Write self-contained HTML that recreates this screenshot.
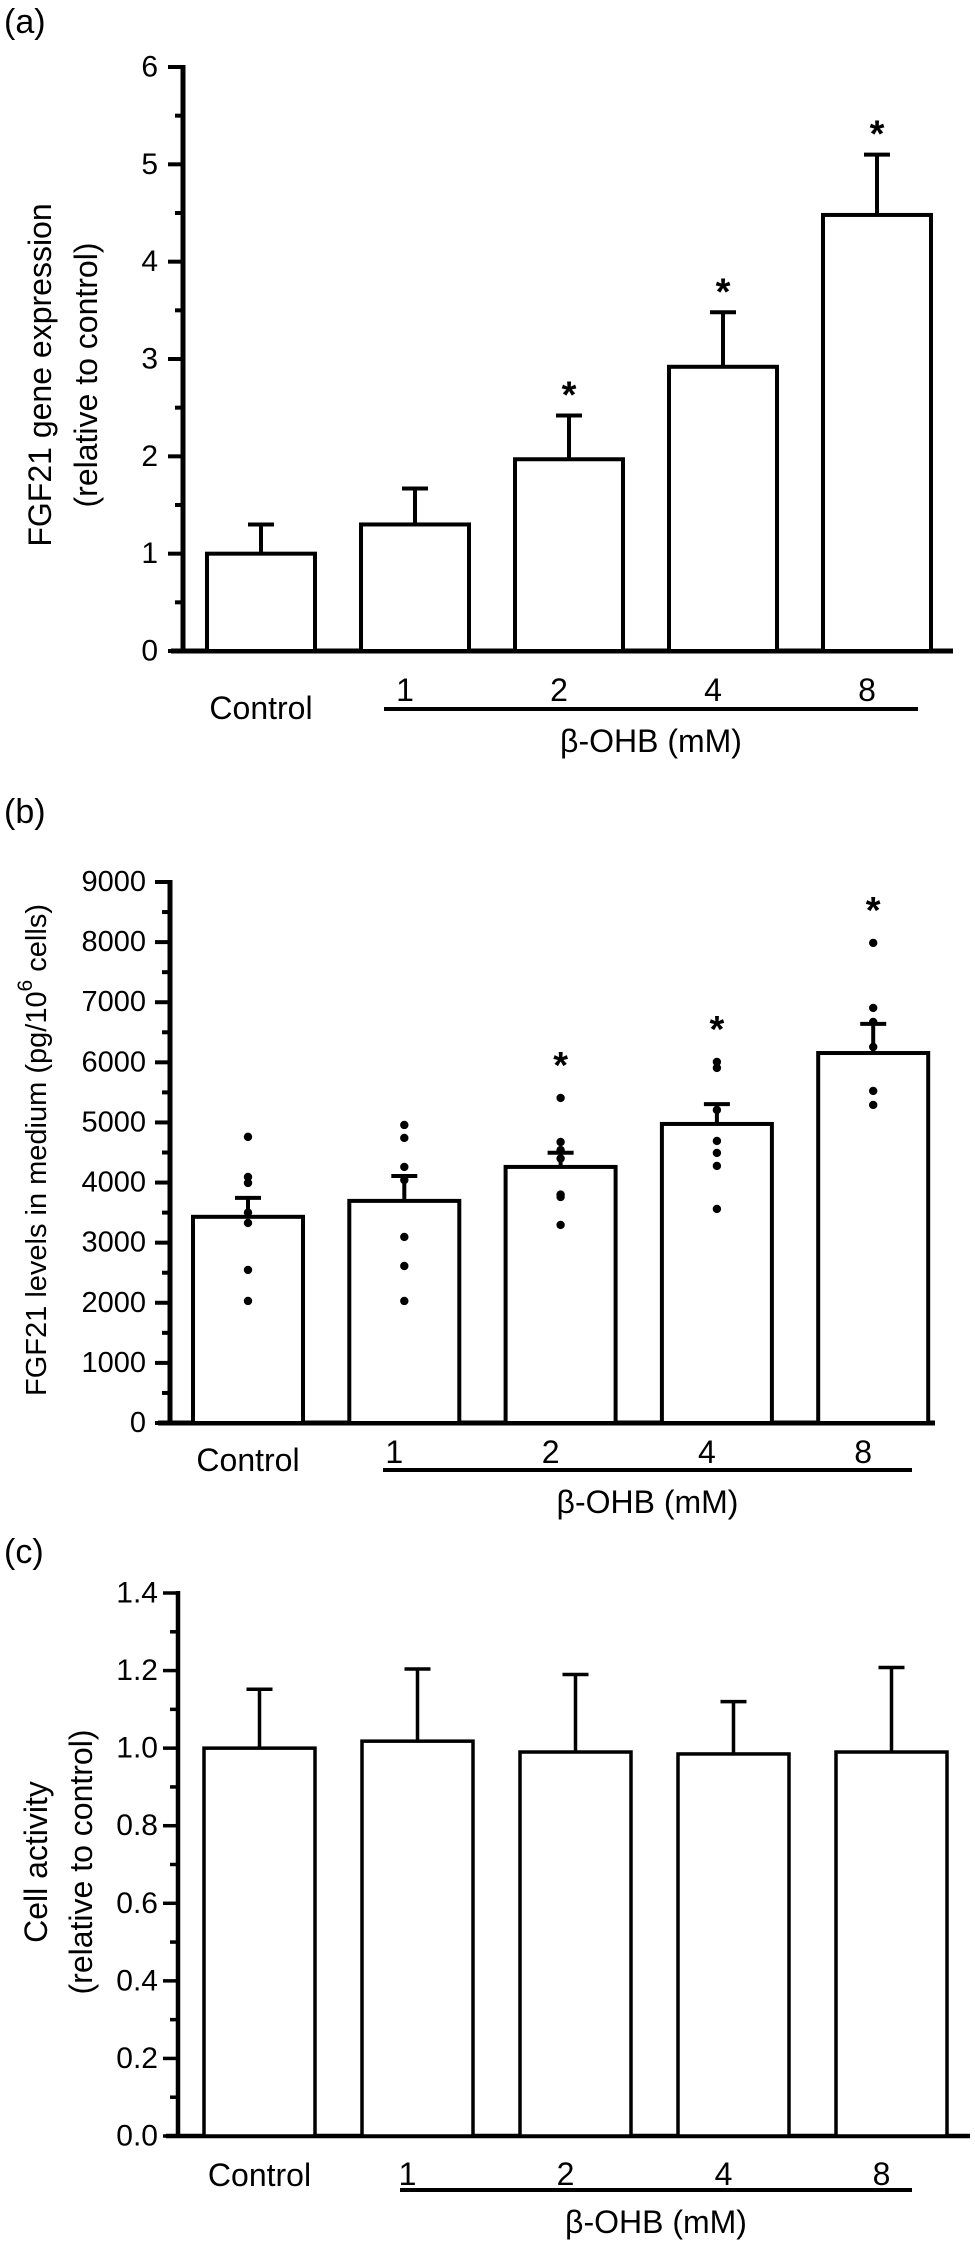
<!DOCTYPE html>
<html><head><meta charset="utf-8"><style>
body{margin:0;background:#fff}
svg{display:block}
text{font-family:"Liberation Sans",Arial,sans-serif;fill:#000}
</style></head><body>
<svg id="fig" width="975" height="2247" viewBox="0 0 975 2247" xmlns="http://www.w3.org/2000/svg"></svg>
<script>
const categories = ["Control","1","2","4","8"];
// Panel (a)
const aMeans = [1.0, 1.30, 1.97, 2.92, 4.48];
const aErrs  = [0.30, 0.37, 0.45, 0.56, 0.62];
const aStars = [false, false, true, true, true];
const aTicks = ["0","1","2","3","4","5","6"];
// Panel (b)
const bMeans = [3430, 3695, 4260, 4975, 6155];
const bErrs  = [315, 415, 235, 330, 485];
const bDots0 = [4760, 4093, 3993, 3500, 3328, 2546, 2030];
const bDots1 = [4958, 4742, 4260, 4043, 3095, 2612, 2030];
const bDots2 = [5408, 4675, 4540, 4400, 3800, 3760, 3295];
const bDots3 = [6007, 5907, 5208, 4692, 4493, 4276, 3561];
const bDots4 = [7987, 6905, 6672, 6256, 5524, 5291];
const bStars = [false, false, true, true, true];
const bTicks = ["0","1000","2000","3000","4000","5000","6000","7000","8000","9000"];
// Panel (c)
const cMeans = [1.0, 1.018, 0.990, 0.985, 0.990];
const cErrs  = [0.152, 0.186, 0.200, 0.135, 0.218];
const cTicks = ["0.0","0.2","0.4","0.6","0.8","1.0","1.2","1.4"];

const NS = "http://www.w3.org/2000/svg";
const svg = document.getElementById("fig");
function mk(tag, attrs, parent){
  const e = document.createElementNS(NS, tag);
  for (const k in attrs) e.setAttribute(k, attrs[k]);
  (parent||svg).appendChild(e);
  return e;
}
function line(x1,y1,x2,y2,w,p){return mk("line",{x1:x1,y1:y1,x2:x2,y2:y2,stroke:"#000","stroke-width":w},p);}
function txt(s,x,y,size,anchor,p){const t=mk("text",{x:x,y:y,"font-size":size,"text-anchor":anchor||"middle","dominant-baseline":"central"},p);t.textContent=s;return t;}

function panel(cfg){
  const g = mk("g",{});
  
  
  const yS = v => cfg.y0 - (v - 0) / cfg.max * (cfg.y0 - cfg.yTop);
  const barX = i => cfg.x0 + i * cfg.step;
  const pl = txt(cfg.letter, 4, cfg.letterY, 34, "start", g);
  
  
  const ya = line(cfg.ax, cfg.yTop-2, cfg.ax, cfg.y0, cfg.sw+1, g);
  
  
  const xa = line(cfg.ax-12, cfg.y0, cfg.xEnd, cfg.y0, cfg.sw+1, g);
  
  
  const n = cfg.ticks.length;
  for (let i=0;i<n;i++){
    const v = cfg.max * i/(n-1);
    const y = yS(v);
    line(cfg.ax-15, y, cfg.ax, y, cfg.sw, g);
    const tl = txt(cfg.ticks[i], cfg.labelR, y, cfg.tickSize, "end", g);
    
    
    if (i<n-1){ const ym = yS(v + cfg.max/(n-1)/2); line(cfg.ax-8, ym, cfg.ax, ym, cfg.sw, g); }
  }
  for (let i=0;i<cfg.means.length;i++){
    const x = barX(i), yt = yS(cfg.means[i]), ye = yS(cfg.means[i]+cfg.errs[i]);
    const cx = x + cfg.bw/2;
    const eb = line(cx, yt, cx, ye, cfg.sw, g);
    
    
    line(cx-13, ye, cx+13, ye, cfg.sw, g);
    const r = mk("rect",{x:x, y:yt, width:cfg.bw, height:cfg.y0-yt, fill:"#fff", stroke:"#000", "stroke-width":cfg.sw}, g);
    
    
    let topY = ye;
    if (cfg.dots){
      const d = cfg.dots[i];
      for (let j=0;j<d.length;j++){
        const c = mk("circle",{cx:cx, cy:yS(d[j]), r:4.2, fill:"#000"}, g);
        
        
        topY = Math.min(topY, yS(d[j]));
      }
    }
    if (cfg.stars && cfg.stars[i]){
      const s = txt("*", cx, topY - cfg.starGap + 6, 38, "middle", g);
      s.setAttribute('font-weight', 'bold');
      
      
    }
    const lx = i===0 ? cx : cx - 10;
    const cl = txt(categories[i], lx, i===0 ? cfg.ctrlY : cfg.numY, 32, "middle", g);
    
    
  }
  const ul = line(cfg.ulX1, cfg.ulY, cfg.ulX2, cfg.ulY, 4, g);
  
  
  const xt = txt("β-OHB (mM)", (cfg.ulX1+cfg.ulX2)/2, cfg.ulY+32, 32, "middle", g);
  
  
  cfg.title.forEach((s,k)=>{
    const t = txt(s, 0, 0, cfg.titleSize, "middle", g);
    t.setAttribute("transform", `translate(${cfg.titleX[k]},${cfg.titleY}) rotate(-90)`);
    
    
    if (cfg.sup && k===0){ t.textContent=""; 
      const a=mk("tspan",{},t); a.textContent="FGF21 levels in medium (pg/10";
      const b=mk("tspan",{dy:-12,"font-size":21},t); b.textContent="6";
      const c=mk("tspan",{dy:12},t); c.textContent=" cells)"; }
  });
}

panel({name:"panel-a-fgf21-expression", letter:"(a)", letterY:22, ax:183, y0:651, yTop:67, max:6, xEnd:953,
  x0:207, step:154, bw:108, sw:4, ticks:aTicks, labelR:158, tickSize:30,
  means:aMeans, errs:aErrs, stars:aStars, starGap:26,
  ctrlY:708, numY:690, ulX1:384, ulX2:918, ulY:709,
  title:["FGF21 gene expression","(relative to control)"], titleX:[40,86], titleY:375, titleSize:32});

panel({name:"panel-b-fgf21-medium", letter:"(b)", letterY:812, ax:170, y0:1423, yTop:882, max:9000, xEnd:935,
  x0:193, step:156.3, bw:110, sw:4, ticks:bTicks, labelR:146, tickSize:29,
  means:bMeans, errs:bErrs, dots:[bDots0,bDots1,bDots2,bDots3,bDots4], stars:bStars, starGap:38,
  ctrlY:1460, numY:1452, ulX1:383, ulX2:912, ulY:1470,
  title:["FGF21 levels in medium (pg/106 cells)"], titleX:[37], titleY:1150, titleSize:29, sup:true});

panel({name:"panel-c-cell-activity", letter:"(c)", letterY:1552, ax:178, y0:2136, yTop:1593, max:1.4, xEnd:970,
  x0:204, step:158, bw:111, sw:3.5, ticks:cTicks, labelR:158, tickSize:30,
  means:cMeans, errs:cErrs, stars:null, starGap:0,
  ctrlY:2175, numY:2174, ulX1:400, ulX2:912, ulY:2190,
  title:["Cell activity","(relative to control)"], titleX:[36,81], titleY:1862, titleSize:32});
</script>
</body></html>
